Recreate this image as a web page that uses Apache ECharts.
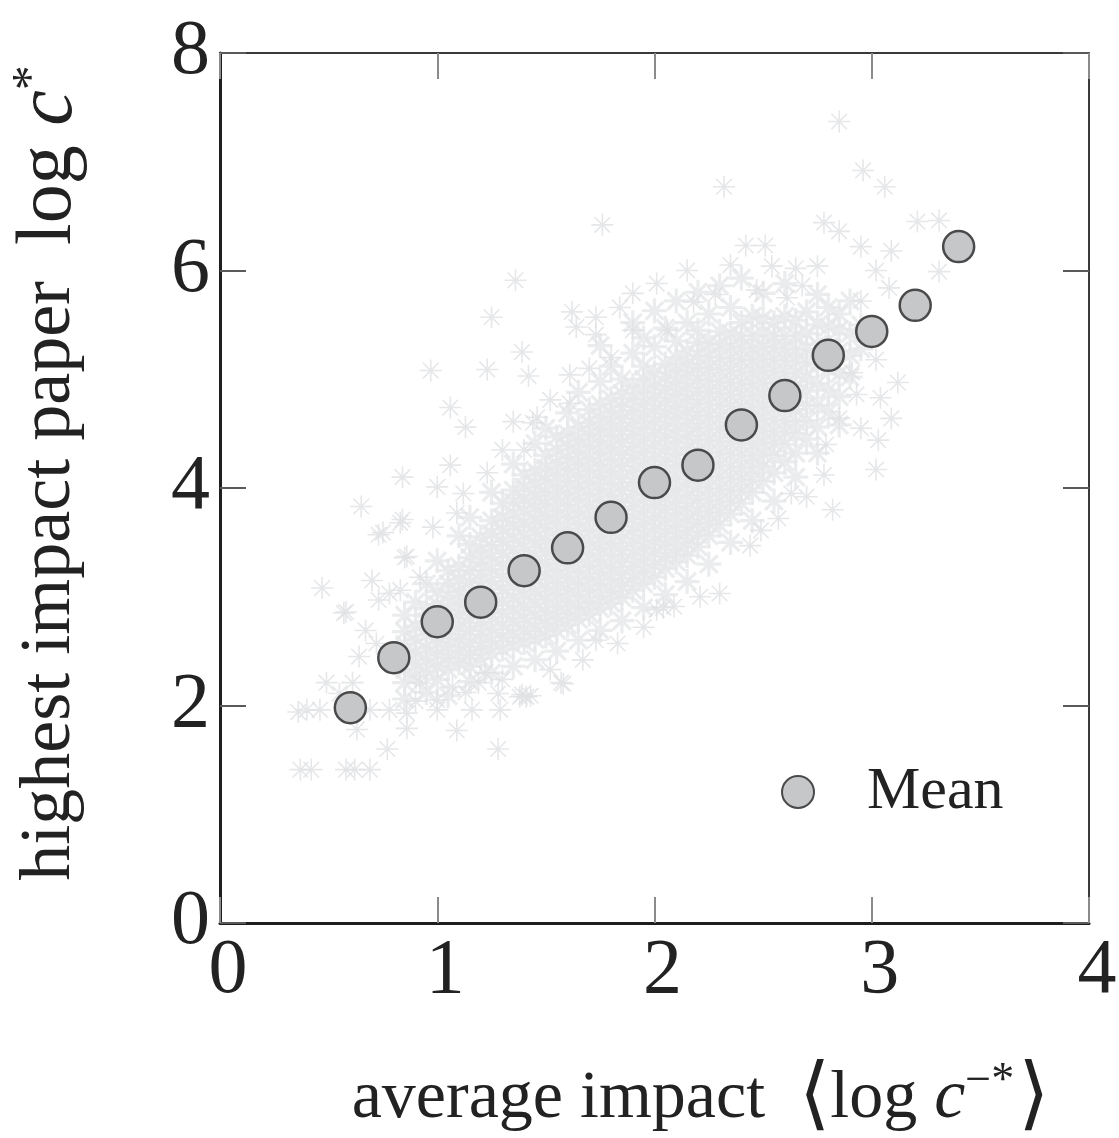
<!DOCTYPE html>
<html>
<head>
<meta charset="utf-8">
<script src="https://cdn.jsdelivr.net/npm/echarts@6/dist/echarts.min.js"></script>
<style>
html,body{margin:0;padding:0;background:#fff;}
#chart{width:1119px;height:1138px;}
</style>
</head>
<body>
<div id="chart"></div>
<script>
// ---- data ----
const xTicks = [0, 1, 2, 3, 4];
const yTicks = [0, 2, 4, 6, 8];
const meanX = [0.6, 0.8, 1.0, 1.2, 1.4, 1.6, 1.8, 2.0, 2.2, 2.4, 2.6, 2.8, 3.0, 3.2, 3.4];
const meanY = [1.98, 2.44, 2.77, 2.95, 3.24, 3.45, 3.73, 4.05, 4.21, 4.58, 4.85, 5.22, 5.44, 5.68, 6.22];

// dense part of the cloud, read column by column
const cloudColumnX = [0.85,0.90,0.95,1.00,1.05,1.10,1.15,1.20,1.25,1.30,1.35,1.40,1.45,1.50,1.55,1.60,1.65,1.70,1.75,1.80,1.85,1.90,1.95,2.00,2.05,2.10,2.15,2.20,2.25,2.30,2.35,2.40,2.45,2.50,2.55,2.60,2.65,2.70,2.75,2.80,2.85,2.90,2.95,3.00];
const cloudColumnY = [
 [2.06,2.21,2.33,2.44,2.56,2.68,2.83],
 [2.27,2.38,2.49,2.61,2.73,2.95],
 [2.12,2.31,2.42,2.53,2.65,2.77,2.89,3.12],
 [2.24,2.36,2.47,2.58,2.69,2.81,2.93,3.05,3.33],
 [2.09,2.33,2.44,2.55,2.66,2.77,2.88,3.0,3.12,3.24],
 [2.39,2.5,2.61,2.72,2.83,2.94,3.05,3.16,3.28,3.56],
 [2.22,2.36,2.47,2.58,2.69,2.8,2.91,3.02,3.13,3.24,3.36,3.48,3.73],
 [2.43,2.54,2.65,2.76,2.87,2.98,3.09,3.2,3.31,3.42,3.55],
 [2.3,2.48,2.59,2.7,2.81,2.92,3.03,3.14,3.25,3.36,3.47,3.58,3.7,3.96],
 [2.52,2.63,2.74,2.85,2.96,3.07,3.18,3.29,3.4,3.51,3.62,3.73,3.86],
 [2.36,2.55,2.66,2.77,2.88,2.99,3.1,3.21,3.32,3.43,3.54,3.65,3.76,3.87,3.98,4.22],
 [2.58,2.69,2.8,2.91,3.02,3.13,3.24,3.35,3.46,3.57,3.68,3.79,3.9,4.01,4.12],
 [2.42,2.61,2.72,2.83,2.94,3.05,3.16,3.27,3.38,3.49,3.6,3.71,3.82,3.93,4.04,4.16,4.41],
 [2.64,2.75,2.86,2.97,3.08,3.19,3.3,3.41,3.52,3.63,3.74,3.85,3.96,4.07,4.18,4.3,4.55],
 [2.5,2.69,2.8,2.91,3.02,3.13,3.24,3.35,3.46,3.57,3.68,3.79,3.9,4.01,4.12,4.23,4.35,4.47],
 [2.74,2.85,2.96,3.07,3.18,3.29,3.4,3.51,3.62,3.73,3.84,3.95,4.06,4.17,4.28,4.39,4.5,4.69],
 [2.6,2.79,2.9,3.01,3.12,3.23,3.34,3.45,3.56,3.67,3.78,3.89,4.0,4.11,4.22,4.33,4.44,4.56,4.88],
 [2.84,2.95,3.06,3.17,3.28,3.39,3.5,3.61,3.72,3.83,3.94,4.05,4.16,4.27,4.38,4.49,4.6,4.72],
 [2.69,2.89,3.0,3.11,3.22,3.33,3.44,3.55,3.66,3.77,3.88,3.99,4.1,4.21,4.32,4.43,4.54,4.65,4.77,4.98,5.31],
 [2.94,3.05,3.16,3.27,3.38,3.49,3.6,3.71,3.82,3.93,4.04,4.15,4.26,4.37,4.48,4.59,4.7,4.82,5.12],
 [2.78,2.99,3.1,3.21,3.32,3.43,3.54,3.65,3.76,3.87,3.98,4.09,4.2,4.31,4.42,4.53,4.64,4.75,4.87,5.0],
 [3.06,3.17,3.28,3.39,3.5,3.61,3.72,3.83,3.94,4.05,4.16,4.27,4.38,4.49,4.6,4.71,4.82,4.94,5.24,5.52],
 [2.9,3.12,3.23,3.34,3.45,3.56,3.67,3.78,3.89,4.0,4.11,4.22,4.33,4.44,4.55,4.66,4.77,4.88,5.0,5.12,5.38],
 [3.18,3.29,3.4,3.51,3.62,3.73,3.84,3.95,4.06,4.17,4.28,4.39,4.5,4.61,4.72,4.83,4.94,5.06,5.3,5.63],
 [3.02,3.26,3.37,3.48,3.59,3.7,3.81,3.92,4.03,4.14,4.25,4.36,4.47,4.58,4.69,4.8,4.91,5.02,5.14,5.47],
 [3.32,3.43,3.54,3.65,3.76,3.87,3.98,4.09,4.2,4.31,4.42,4.53,4.64,4.75,4.86,4.97,5.08,5.2,5.35,5.72],
 [3.14,3.38,3.49,3.6,3.71,3.82,3.93,4.04,4.15,4.26,4.37,4.48,4.59,4.7,4.81,4.92,5.03,5.14,5.26,5.52],
 [3.46,3.57,3.68,3.79,3.9,4.01,4.12,4.23,4.34,4.45,4.56,4.67,4.78,4.89,5.0,5.11,5.22,5.34,5.45,5.8],
 [3.3,3.56,3.67,3.78,3.89,4.0,4.11,4.22,4.33,4.44,4.55,4.66,4.77,4.88,4.99,5.1,5.21,5.33,5.6],
 [3.66,3.77,3.88,3.99,4.1,4.21,4.32,4.43,4.54,4.65,4.76,4.87,4.98,5.09,5.2,5.32,5.44,5.86],
 [3.5,3.76,3.87,3.98,4.09,4.2,4.31,4.42,4.53,4.64,4.75,4.86,4.97,5.08,5.19,5.3,5.42,5.66],
 [3.86,3.97,4.08,4.19,4.3,4.41,4.52,4.63,4.74,4.85,4.96,5.07,5.18,5.29,5.4,5.52,5.93],
 [3.7,3.96,4.07,4.18,4.29,4.4,4.51,4.62,4.73,4.84,4.95,5.06,5.17,5.28,5.4,5.58],
 [4.06,4.2,4.31,4.42,4.53,4.64,4.75,4.86,4.97,5.08,5.19,5.3,5.42,5.56,5.79],
 [3.88,4.14,4.3,4.41,4.52,4.63,4.74,4.85,4.96,5.07,5.18,5.29,5.4,5.52],
 [4.24,4.4,4.51,4.62,4.73,4.84,4.95,5.06,5.17,5.28,5.4,5.58,5.88],
 [4.1,4.32,4.5,4.61,4.72,4.83,4.94,5.05,5.16,5.27,5.4,5.54],
 [4.45,4.62,4.76,4.89,5.02,5.15,5.28,5.42,5.62],
 [4.32,4.56,4.76,4.96,5.14,5.32,5.5,5.78],
 [4.7,4.9,5.1,5.3,5.48,5.66],
 [4.58,4.84,5.05,5.26,5.46,5.6],
 [5.02,5.22,5.42,5.72],
 [5.28,5.5],
 [5.44]
];

// scattered outliers, read one by one
const cloudSparse = [
 [0.37,1.41],[0.42,1.41],[0.58,1.41],[0.62,1.41],[0.69,1.41],
 [0.36,1.94],[0.40,1.96],[0.46,1.96],[0.69,1.96],[0.78,1.96],[0.86,1.93],[1.00,1.96],[1.16,1.96],[1.29,1.96],
 [0.49,2.21],[0.55,2.11],[0.61,2.21],[0.92,2.21],[1.07,2.17],[1.19,2.21],[1.30,2.24],[0.90,2.04],[1.00,2.05],[1.13,2.12],
 [0.63,1.78],[0.77,1.60],[0.86,1.79],[1.09,1.77],[1.28,1.60],[1.41,2.08],[1.57,2.21],[1.28,2.11],[1.39,2.10],[1.43,2.09],
 [0.47,3.08],[0.57,2.85],[0.58,2.86],[0.64,2.45],[0.67,2.69],[0.72,2.57],[0.73,2.97],[0.78,3.03],[0.83,3.06],[0.70,3.15],
 [0.92,3.18],[0.85,3.36],[0.86,3.37],[0.73,3.57],[0.75,3.59],[0.83,3.68],[0.84,3.71],[0.98,3.64],[1.09,3.77],[0.65,3.83],
 [0.84,4.10],[1.00,4.01],[1.12,3.95],[1.23,4.14],[1.06,4.21],[1.30,4.35],[1.40,4.35],[1.13,4.56],[1.35,4.61],[1.44,4.60],
 [1.06,4.74],[1.46,4.65],[1.52,4.81],[1.61,4.78],[0.97,5.08],[1.23,5.09],[1.39,5.25],[1.42,5.03],[1.61,5.04],[1.70,5.10],
 [1.80,5.20],[1.73,5.41],[1.90,5.45],[2.06,5.45],[1.64,5.48],[1.25,5.57],[1.62,5.62],[1.73,5.57],[1.84,5.66],[1.90,5.79],
 [2.01,5.88],[1.36,5.91],[1.76,6.42],[2.15,6.00],[2.35,6.05],[2.32,6.77],[2.42,6.23],[2.51,6.23],[2.54,6.04],[2.65,6.02],
 [2.75,6.04],[2.78,6.44],[2.85,6.36],[2.85,7.37],[2.96,6.92],[3.06,6.77],[2.95,6.22],[3.09,6.18],[3.02,6.00],[3.21,6.45],
 [3.31,6.46],[3.31,5.99],[2.95,5.72],[3.08,5.84],[3.02,5.18],[2.91,5.06],[3.12,4.97],[2.93,4.86],[3.04,4.83],[2.85,4.64],
 [3.09,4.64],[2.95,4.55],[3.03,4.44],[2.79,4.40],[3.02,4.17],[2.82,3.80],[2.70,3.92],[2.49,3.61],[2.30,3.03],[2.21,3.00],
 [2.04,2.90],[2.09,2.91],[2.01,2.88],[1.73,2.60],[1.83,2.57],[1.58,2.20],[1.38,2.08],[2.18,5.71],[2.28,5.78],[2.47,5.82],
 [2.61,5.75],[2.68,5.86],[2.44,3.47],[2.57,3.72],[2.63,3.95],[2.78,4.12],[1.95,2.72],[1.67,2.42],[1.52,2.33],[1.22,2.30]
];

// ---- build ----
const cloudDense = [];
cloudColumnX.forEach((x, i) => cloudColumnY[i].forEach(y => cloudDense.push([x, y])));
const meanData = meanX.map((x, i) => [x, meanY[i]]);

const FONT = 'Liberation Serif';
const chart = echarts.init(document.getElementById('chart'), null, {renderer: 'canvas'});
const star = 'path://M12 0L12 24M0 12L24 12M3.5 3.5L20.5 20.5M3.5 20.5L20.5 3.5';

chart.setOption({
  animation: false,
  backgroundColor: '#ffffff',
  grid: {left: 220, right: 30, top: 53, bottom: 215, containLabel: false, outerBoundsMode: 'none'},
  legend: {
    data: ['Mean'],
    left: 776, top: 757,
    itemWidth: 32, itemHeight: 32,
    formatter: '{t|Mean}',
    textStyle: {rich: {t: {fontFamily: FONT, fontSize: 60, color: '#222', padding: [0, 0, 0, 48]}}}
  },
  xAxis: [{
    type: 'value', min: 0, max: 4, interval: 1, position: 'bottom',
    axisLine: {show: true, onZero: false, lineStyle: {color: '#1e1e1e', width: 3}},
    axisTick: {show: true, inside: true, length: 26, lineStyle: {color: '#8a8a8a', width: 2}},
    splitLine: {show: false},
    axisLabel: {fontFamily: FONT, fontSize: 78, color: '#222', margin: 10, padding: [0, 0, 0, 16],
      formatter: v => xTicks.includes(v) ? String(v) : ''},
    name: '{t|average impact  }{b|⟨}{t|log }{i|c}{s|−*}{b|⟩}',
    nameLocation: 'middle', nameGap: 136,
    nameTextStyle: {
      padding: [0, 0, 0, 92],
      rich: {
        t: {fontFamily: FONT, fontSize: 68, color: '#222'},
        i: {fontFamily: FONT, fontStyle: 'italic', fontSize: 70, color: '#222'},
        s: {fontFamily: FONT, fontSize: 46, color: '#222', verticalAlign: 'top', padding: [0, 4, 30, 0]},
        b: {fontFamily: 'DejaVu Serif', fontSize: 80, color: '#222', fontWeight: 'lighter'}
      }
    }
  }, {
    type: 'value', min: 0, max: 4, interval: 1, position: 'top',
    axisLine: {show: true, onZero: false, lineStyle: {color: '#3a3a3a', width: 2}},
    axisTick: {show: true, inside: true, length: 26, lineStyle: {color: '#8a8a8a', width: 2}},
    axisLabel: {show: false}, splitLine: {show: false}
  }],
  yAxis: [{
    type: 'value', min: 0, max: 8, interval: 2, position: 'left',
    axisLine: {show: true, onZero: false, lineStyle: {color: '#1e1e1e', width: 3}},
    axisTick: {show: true, inside: true, length: 26, lineStyle: {color: '#5a5a5a', width: 2}},
    splitLine: {show: false},
    axisLabel: {fontFamily: FONT, fontSize: 78, color: '#222', margin: 10,
      formatter: v => yTicks.includes(v) ? String(v) : ''},
    name: '{t|highest impact paper  }{l|log }{i|c}{s|*}',
    nameLocation: 'middle', nameRotate: 90, nameGap: 128,
    nameTextStyle: {
      padding: [0, 0, 0, 30],
      rich: {
        t: {fontFamily: FONT, fontSize: 72, color: '#222'},
        l: {fontFamily: FONT, fontSize: 78, color: '#222'},
        i: {fontFamily: FONT, fontStyle: 'italic', fontSize: 80, color: '#222'},
        s: {fontFamily: FONT, fontSize: 50, color: '#222', verticalAlign: 'top', padding: [0, 0, 34, 0]}
      }
    }
  }, {
    type: 'value', min: 0, max: 8, interval: 2, position: 'right',
    axisLine: {show: true, onZero: false, lineStyle: {color: '#3a3a3a', width: 2}},
    axisTick: {show: true, inside: true, length: 26, lineStyle: {color: '#5a5a5a', width: 2}},
    axisLabel: {show: false}, splitLine: {show: false}
  }],
  series: [{
    name: 'cloud', type: 'scatter', xAxisIndex: 0, yAxisIndex: 0,
    data: cloudDense, symbol: star, symbolSize: 25, z: 1, silent: true,
    itemStyle: {color: 'none', borderColor: '#e6e7e9', borderWidth: 3.2}
  }, {
    name: 'cloud outliers', type: 'scatter', xAxisIndex: 0, yAxisIndex: 0,
    data: cloudSparse, symbol: star, symbolSize: 22, z: 1, silent: true,
    itemStyle: {color: 'none', borderColor: '#e0e1e3', borderWidth: 1.6}
  }, {
    name: 'Mean', type: 'scatter', xAxisIndex: 0, yAxisIndex: 0,
    data: meanData, symbol: 'circle', symbolSize: 31, z: 5,
    itemStyle: {color: '#c6c7c9', borderColor: '#4a4a4a', borderWidth: 2.5, opacity: 1}
  }]
});
</script>
</body>
</html>
